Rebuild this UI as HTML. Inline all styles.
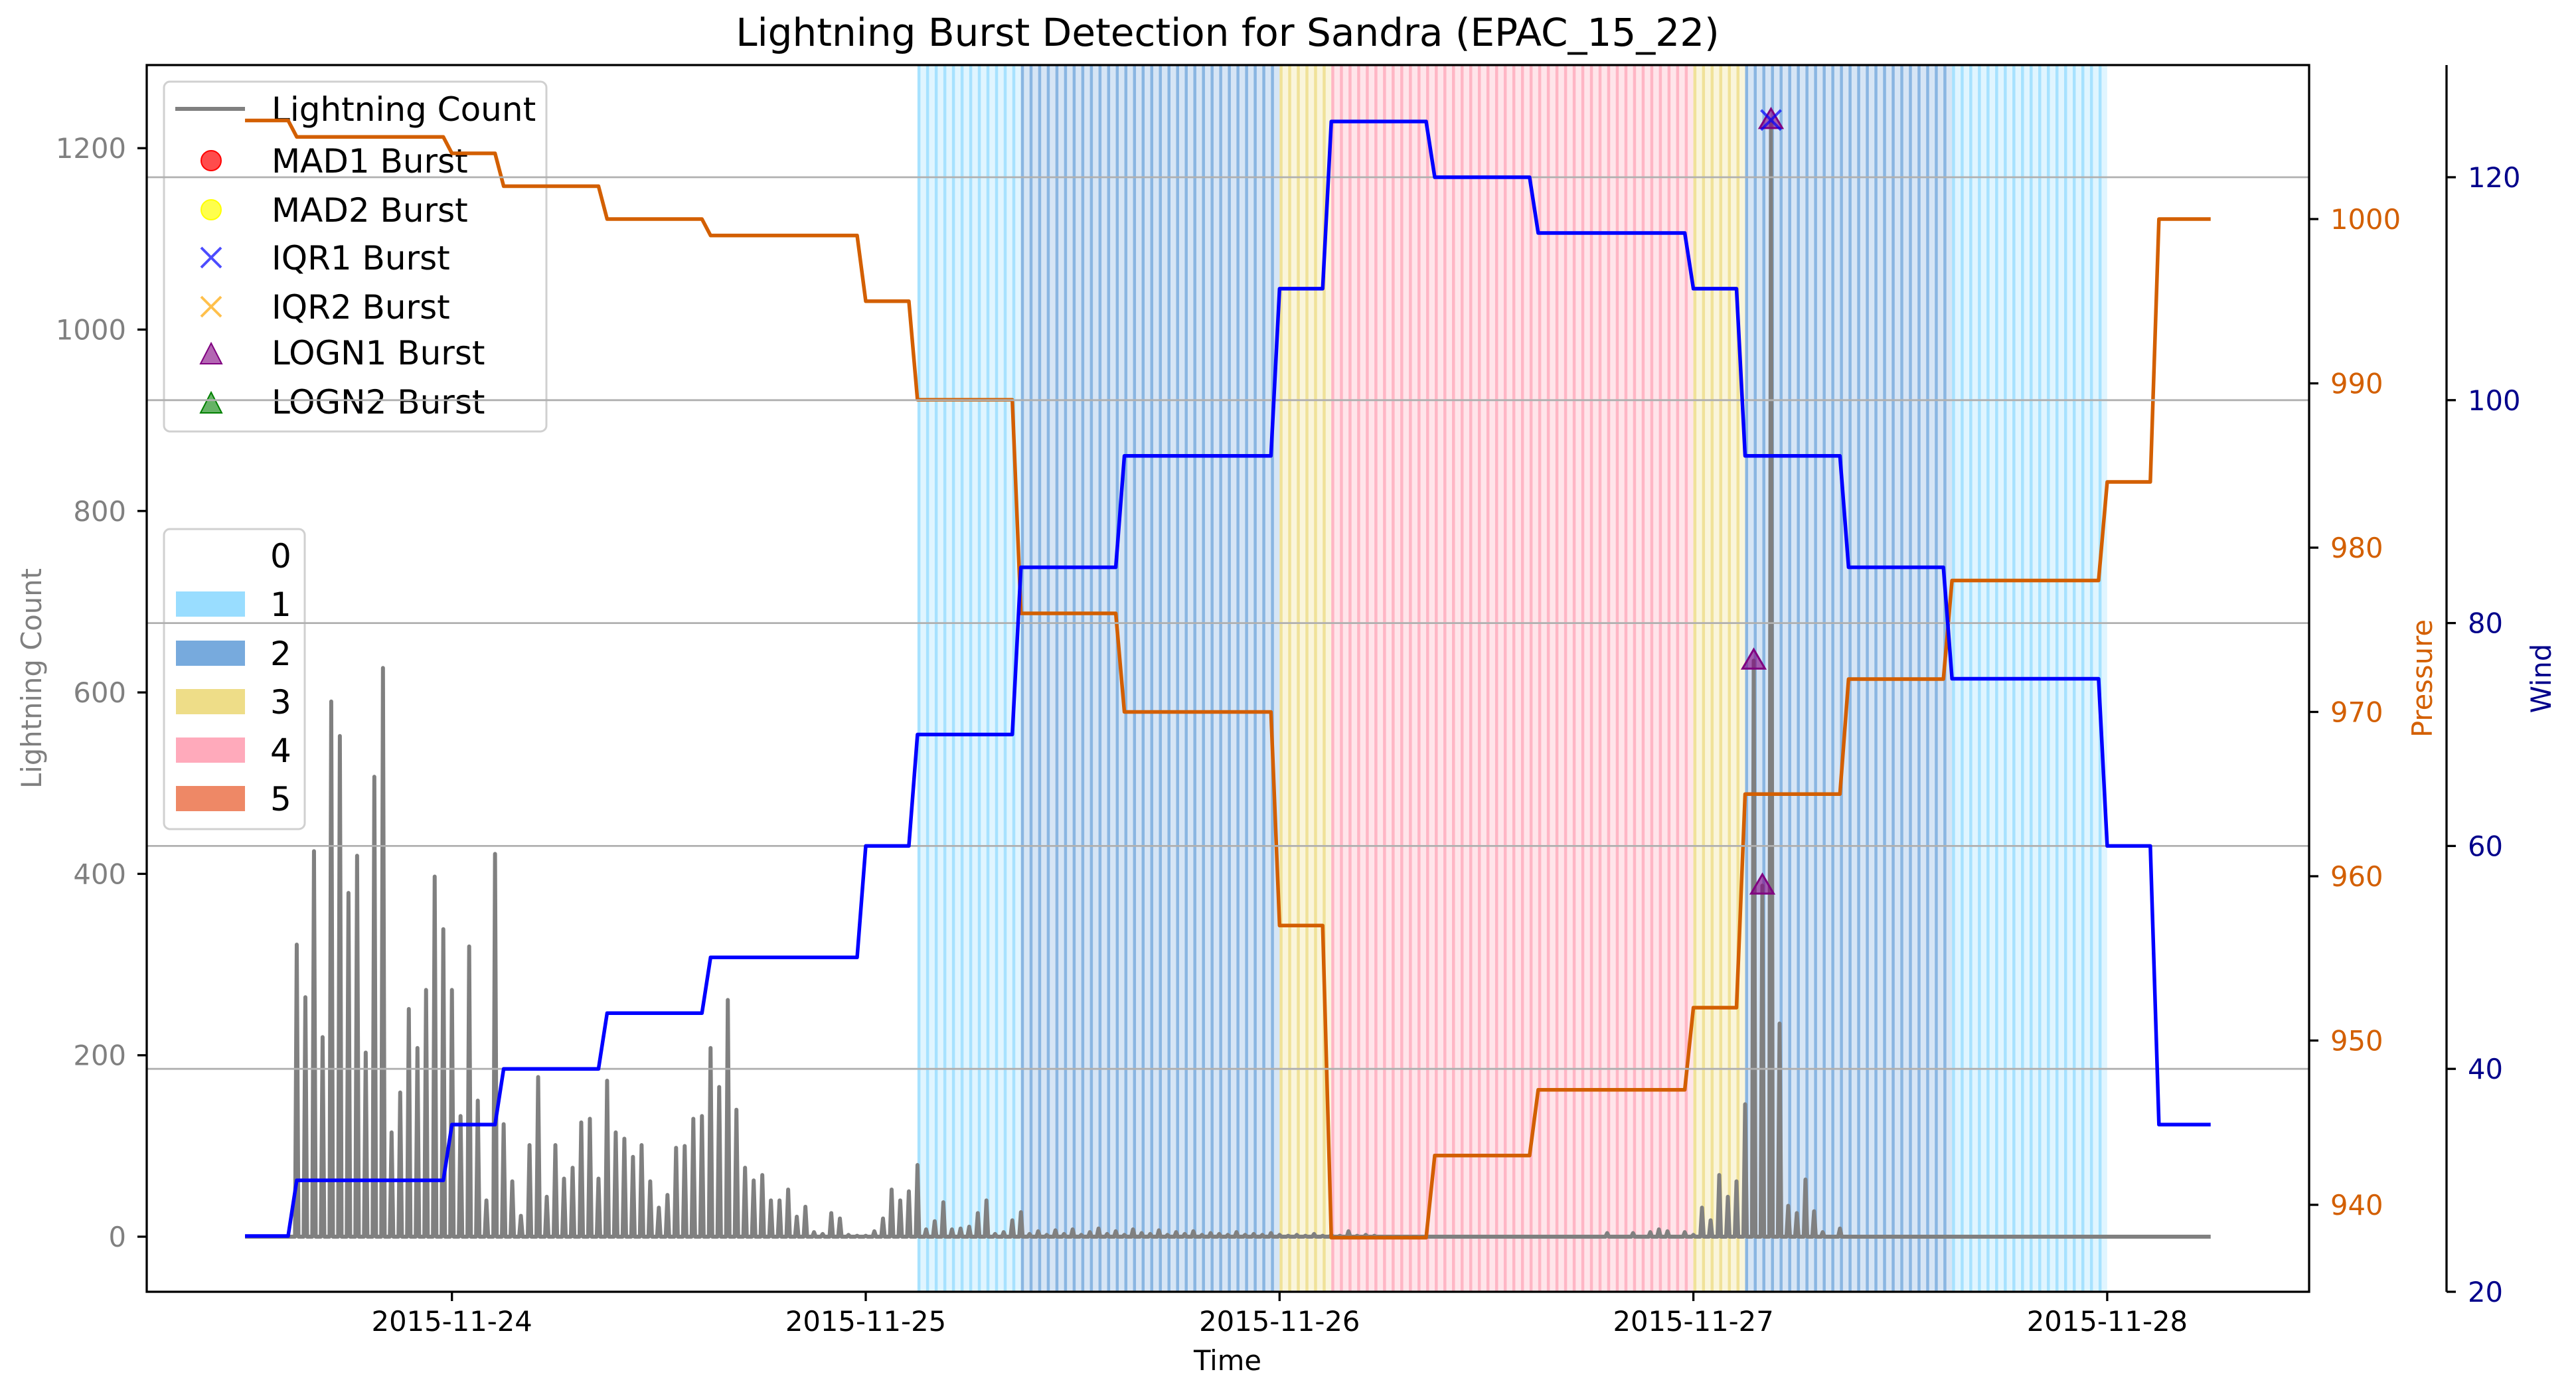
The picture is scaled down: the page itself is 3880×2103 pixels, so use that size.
<!DOCTYPE html>
<html><head><meta charset="utf-8"><style>
html,body{margin:0;padding:0;background:#fff}
svg{display:block;font-family:"DejaVu Sans","Liberation Sans",sans-serif}
</style></head><body>
<svg id="chart" width="3880" height="2103" viewBox="0 0 3880 2103" xmlns="http://www.w3.org/2000/svg">
<rect x="0" y="0" width="3880" height="2103" fill="#fff"/>
<g id="shading"></g>
<g id="lightning"></g>
<g id="markers"></g>
<g id="legend1">
 <rect x="247" y="123" width="576" height="527" rx="9" fill="#fff" fill-opacity="0.8" stroke="#d0d0d0" stroke-width="3"/>
 <line x1="264" y1="164" x2="369" y2="164" stroke="#808080" stroke-width="6"/>
 <text x="409" y="182" font-size="50">Lightning Count</text>
 <circle cx="318" cy="242" r="15" fill="#ff0000" fill-opacity="0.7" stroke="#ff0000" stroke-width="2"/>
 <text x="409" y="260" font-size="50">MAD1 Burst</text>
 <circle cx="318" cy="316" r="15" fill="#ffff00" fill-opacity="0.7" stroke="#ffff00" stroke-width="2"/>
 <text x="409" y="334" font-size="50">MAD2 Burst</text>
 <path d="M303 373 L333 403 M333 373 L303 403" stroke="#0000ff" stroke-opacity="0.7" stroke-width="4"/>
 <text x="409" y="406" font-size="50">IQR1 Burst</text>
 <path d="M303 447 L333 477 M333 447 L303 477" stroke="#ffa500" stroke-opacity="0.7" stroke-width="4"/>
 <text x="409" y="480" font-size="50">IQR2 Burst</text>
 <path d="M318 517 L334 548 L302 548 Z" fill="#800080" fill-opacity="0.6" stroke="#800080" stroke-width="2"/>
 <text x="409" y="549" font-size="50">LOGN1 Burst</text>
 <path d="M318 591 L334 622 L302 622 Z" fill="#008000" fill-opacity="0.6" stroke="#008000" stroke-width="2"/>
 <text x="409" y="623" font-size="50">LOGN2 Burst</text>
</g>
<g id="legend2">
 <rect x="247" y="797" width="212" height="452" rx="9" fill="#fff" fill-opacity="0.8" stroke="#d0d0d0" stroke-width="3"/>
 <text x="407" y="855" font-size="50">0</text>
 <rect x="265" y="891" width="104" height="38" fill="#99ddff"/>
 <text x="407" y="928" font-size="50">1</text>
 <rect x="265" y="965" width="104" height="38" fill="#77aadd"/>
 <text x="407" y="1002" font-size="50">2</text>
 <rect x="265" y="1038" width="104" height="38" fill="#eedd88"/>
 <text x="407" y="1075" font-size="50">3</text>
 <rect x="265" y="1111" width="104" height="38" fill="#ffaabb"/>
 <text x="407" y="1148" font-size="50">4</text>
 <rect x="265" y="1184" width="104" height="38" fill="#ee8866"/>
 <text x="407" y="1221" font-size="50">5</text>
</g>
<g id="pressure"></g>
<g id="grid"></g>
<g id="wind"></g>
<g id="axes"></g>
<text x="1849" y="69" font-size="58" text-anchor="middle">Lightning Burst Detection for Sandra (EPAC_15_22)</text>
<text x="1849" y="2064" font-size="41.7" text-anchor="middle">Time</text>
<text transform="translate(62,1022) rotate(-90)" font-size="41.7" text-anchor="middle" fill="#808080">Lightning Count</text>
<text transform="translate(3663,1022) rotate(-90)" font-size="41.7" text-anchor="middle" fill="#d35f00">Pressure</text>
<text transform="translate(3842,1022) rotate(-90)" font-size="41.7" text-anchor="middle" fill="#00008b">Wind</text>
</svg>
<script>
// ---- data ----
const stepHours = [0,3,12,15,21,27,36,39,45,51,60,63,69,75,84,87,93,99,108,111];
const windKt = [25,30,35,40,45,50,60,70,85,95,110,125,120,115,110,95,85,75,60,35];
const pressureHpa = [1006,1005,1004,1002,1000,999,995,989,976,970,957,938,943,947,952,965,972,978,984,1000];
const endHour = 114;
const lightningCounts = [
0,0,0,0,0,0,
322,264,425,220,590,552,379,420,203,507,
627,115,159,251,208,272,397,339,272,133,
320,150,40,422,124,61,23,101,176,44,
101,64,76,126,130,64,172,115,108,88,
101,61,32,46,98,100,130,133,208,165,
261,140,76,62,68,40,40,52,22,33,
5,3,26,20,2,1,1,6,20,52,
40,50,79,8,17,38,8,9,11,26,
40,
3,5,18,27,
3,6,2,7,3,8,2,5,9,3,6,2,8,4,3,7,2,5,3,6,2,4,3,2,5,2,3,2,4,2,1,2,1,3,1,2,1,6,1,2,1,
0,0,0,0,0,0,0,0,0,0,0,0,0,0,0,0,0,0,0,0,0,0,0,0,0,0,
4,0,0,4,0,5,8,6,0,5,2,
32,18,68,44,61,146,635,387,1231,235,34,26,63,28,5,
0,9,0,0,0,0,0,0,0,0,0,0,0,0,0,0,0,0,0,0,0,0,0,0,0,0,0,0,0,0,0,0,0,0,0,0,0,0,0,0,0,0,0,0,0
];
const logn1Hours = [87.5,88.0,88.5];
const logn1Counts = [635,387,1231];
const iqr1Hours = [88.5];
const iqr1Counts = [1231];
const countTicks = [0,200,400,600,800,1000,1200];
const pressureTicks = [940,950,960,970,980,990,1000];
const windTicks = [20,40,60,80,100,120];
const dateTickHours = [12,36,60,84,108];
const dateTickLabels = ['2015-11-24','2015-11-25','2015-11-26','2015-11-27','2015-11-28'];
const catColors = ['none','#99ddff','#77aadd','#eedd88','#ffaabb','#ee8866'];

// ---- scales ----
const L=221,R=3478,T=98,B=1946;
const xOf=h=>680.7+(h/24-0.5)*623.3;
const yL=v=>1863-v*1.3665;
const yP=p=>330+(1000-p)*24.75;
const yW=w=>1946-(w-20)*16.79;
const NS='http://www.w3.org/2000/svg';
function mk(parent,tag,attrs){const e=document.createElementNS(NS,tag);for(const k in attrs)e.setAttribute(k,attrs[k]);document.getElementById(parent).appendChild(e);return e;}
function cat(w){return w>=137?5:w>=113?4:w>=96?3:w>=83?2:w>=64?1:0;}

// shading
for(let k=0;k<stepHours.length;k++){
  const c=cat(windKt[k]); if(!c) continue;
  const t0=stepHours[k], t1=(k+1<stepHours.length?stepHours[k+1]:endHour);
  const bg=mk('shading','rect',{x:xOf(t0),y:T,width:xOf(t1)-xOf(t0),height:B-T,fill:catColors[c],'fill-opacity':0.3});
  
  
  for(let t=t0;t<t1;t+=0.5){
    const s=mk('shading','rect',{x:xOf(t),y:T,width:4.5,height:B-T,fill:catColors[c],'fill-opacity':0.8});
    
    
  }
}

// lightning
let lp=[];
lightningCounts.forEach((v,i)=>{const t=i*0.5;
  if(v>0){lp.push([xOf(t-0.1),yL(0)],[xOf(t),yL(v)],[xOf(t+0.1),yL(0)]);} else lp.push([xOf(t),yL(0)]);});
const ll=mk('lightning','polyline',{points:lp.map(p=>p.join(',')).join(' '),fill:'none',stroke:'#808080','stroke-width':6,'stroke-linejoin':'round'});



// markers
logn1Hours.forEach((h,i)=>{const x=xOf(h),y=yL(logn1Counts[i]);
  const m=mk('markers','path',{d:`M${x} ${y-17} L${x+17} ${y+12} L${x-17} ${y+12} Z`,fill:'#800080','fill-opacity':0.6,stroke:'#800080','stroke-width':3});
  
  });
iqr1Hours.forEach((h,i)=>{const x=xOf(h),y=yL(iqr1Counts[i]);
  const m=mk('markers','path',{d:`M${x-15} ${y-15} L${x+15} ${y+15} M${x+15} ${y-15} L${x-15} ${y+15}`,stroke:'#0000ff','stroke-opacity':0.7,'stroke-width':4});
  
  });

// step series
function stepPts(vals,yf){const p=[[xOf(stepHours[0]),yf(vals[0])]];
  for(let k=1;k<stepHours.length;k++){p.push([xOf(stepHours[k]-0.5),yf(vals[k-1])],[xOf(stepHours[k]),yf(vals[k])]);}
  p.push([xOf(endHour),yf(vals[vals.length-1])]);return p.map(q=>q.join(',')).join(' ');}
const pl=mk('pressure','polyline',{points:stepPts(pressureHpa,yP),fill:'none',stroke:'#d35f00','stroke-width':5.5,'stroke-linejoin':'round'});



windTicks.forEach(w=>{if(w===20)return;const g=mk('grid','line',{x1:L,x2:R,y1:yW(w),y2:yW(w),stroke:'#b0b0b0','stroke-width':2.8});
  
  });
const wl=mk('wind','polyline',{points:stepPts(windKt,yW),fill:'none',stroke:'#0000ff','stroke-width':5.5,'stroke-linejoin':'round'});



// axes
const frame=mk('axes','rect',{x:L,y:T,width:R-L,height:B-T,fill:'none',stroke:'#000','stroke-width':3.3});


const ws=mk('axes','line',{x1:3685,x2:3685,y1:T,y2:B,stroke:'#000','stroke-width':3.3});


countTicks.forEach(v=>{const y=yL(v);
  const t=mk('axes','line',{x1:L-14,x2:L,y1:y,y2:y,stroke:'#000','stroke-width':3.3});
  
  
  const tx=mk('axes','text',{x:190,y:y+15,'font-size':41.7,'text-anchor':'end',fill:'#808080'});tx.textContent=v;
  
  });
pressureTicks.forEach(v=>{const y=yP(v);
  const t=mk('axes','line',{x1:R,x2:R+14,y1:y,y2:y,stroke:'#000','stroke-width':3.3});
  
  
  const tx=mk('axes','text',{x:3510,y:y+15,'font-size':41.7,fill:'#d35f00'});tx.textContent=v;
  
  });
windTicks.forEach(v=>{const y=yW(v);
  const t=mk('axes','line',{x1:3685,x2:3699,y1:y,y2:y,stroke:'#000','stroke-width':3.3});
  
  
  const tx=mk('axes','text',{x:3717,y:y+15,'font-size':41.7,fill:'#00008b'});tx.textContent=v;
  
  });
dateTickHours.forEach((h,i)=>{const x=xOf(h);
  const t=mk('axes','line',{x1:x,x2:x,y1:B,y2:B+14,stroke:'#000','stroke-width':3.3});
  
  
  const tx=mk('axes','text',{x:x,y:2005,'font-size':41.7,'text-anchor':'middle'});tx.textContent=dateTickLabels[i];
  
  });
</script>
</body></html>
